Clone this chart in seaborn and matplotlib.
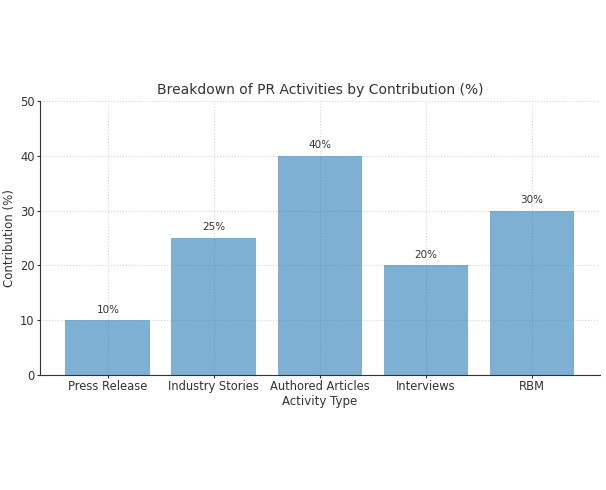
import matplotlib
matplotlib.use("Agg")
import matplotlib.pyplot as plt
import seaborn as sns
import pandas as pd

activities = ["Press Release", "Industry Stories", "Authored Articles", "Interviews", "RBM"]
contribution = [10, 25, 40, 20, 30]

df = pd.DataFrame({"Activity Type": activities, "Contribution (%)": contribution})

sns.set_style("white")
plt.rcParams["font.family"] = ["DejaVu Sans"]

fig = plt.figure(figsize=(6.06, 4.9), dpi=100)
ax = fig.add_axes([0.066, 0.235, 0.924, 0.559])

sns.barplot(data=df, x="Activity Type", y="Contribution (%)", color="#1f77b4",
            alpha=0.58, width=0.8, saturation=1, linewidth=0, ax=ax)

ax.grid(True, axis="both", linestyle=":", color="#d5d5d5", linewidth=0.8)
ax.set_axisbelow(True)

for i, v in enumerate(contribution):
    ax.text(i, v + 1, f"{v}%", ha="center", va="bottom", fontsize=7.5, color="#333333")

ax.set_ylim(0, 50)
ax.set_xlim(-0.64, 4.64)
ax.set_title("Breakdown of PR Activities by Contribution (%)", fontsize=10, color="#333333", pad=5)
ax.set_xlabel("Activity Type", fontsize=8.5, color="#333333", labelpad=1)
ax.set_ylabel("Contribution (%)", fontsize=8.5, color="#333333", labelpad=3)
ax.tick_params(axis="both", labelsize=8.3, colors="#333333", length=2, pad=2, left=True, bottom=True)
sns.despine(ax=ax)
for s in ["left", "bottom"]:
    ax.spines[s].set_color("#333333")
    ax.spines[s].set_linewidth(0.8)

fig.savefig("out.png", dpi=100)
